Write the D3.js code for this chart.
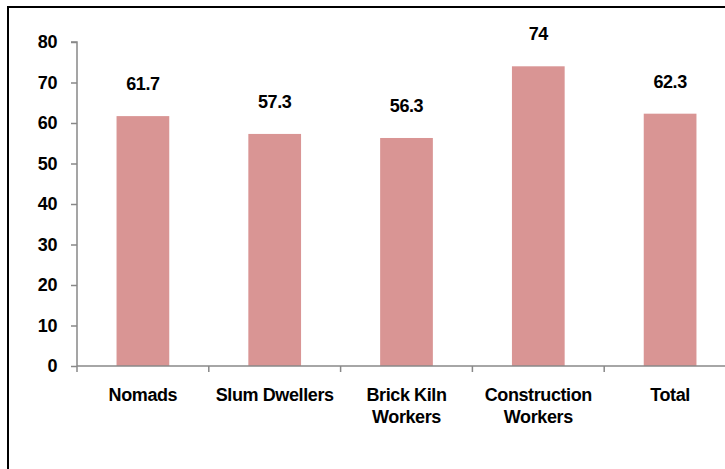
<!DOCTYPE html>
<html>
<head>
<meta charset="utf-8">
<script src="https://cdn.jsdelivr.net/npm/d3@7"></script>
<style>
  html, body { margin: 0; padding: 0; background: #fff; }
  svg { display: block; }
  text { font-family: "Liberation Sans", Arial, sans-serif; font-weight: bold; fill: #000; letter-spacing: -0.4px; }
</style>
</head>
<body>
<svg id="chart" width="725" height="469"></svg>
<script>
const categories = [["Nomads"], ["Slum Dwellers"], ["Brick Kiln", "Workers"], ["Construction", "Workers"], ["Total"]];
const values = [61.7, 57.3, 56.3, 74, 62.3];
const yTicks = [0, 10, 20, 30, 40, 50, 60, 70, 80];

const svg = d3.select("#chart");

// outer border (chart frame, cropped on right/bottom)
svg.append("rect")
  .attr("x", 8).attr("y", 7)
  .attr("width", 760).attr("height", 500)
  .attr("fill", "none").attr("stroke", "#000").attr("stroke-width", 2);

const x0 = 77, bandW = 131.8;
const keys = categories.map((c, i) => i);
const x = d3.scaleBand().domain(keys).range([x0, x0 + bandW * keys.length]).padding(0);
const y = d3.scaleLinear().domain([0, 80]).range([366, 42]);

// bars
const barW = x.bandwidth() * 0.4;
svg.append("g").selectAll("rect").data(values).join("rect")
  .attr("x", (d, i) => x(i) + (x.bandwidth() - barW) / 2)
  .attr("y", d => y(d))
  .attr("width", barW)
  .attr("height", d => y(0) - y(d))
  .attr("fill", "#D99594");

// value labels
svg.append("g").selectAll("text").data(values).join("text")
  .attr("x", (d, i) => x(i) + x.bandwidth() / 2)
  .attr("y", d => y(d) - 26)
  .attr("text-anchor", "middle")
  .style("font-size", "18px")
  .text(d => String(d));

// y axis
const yAxis = d3.axisLeft(y).tickValues(yTicks).tickSize(6).tickPadding(14);
const gy = svg.append("g").attr("transform", `translate(${x0},0)`).call(yAxis);
gy.select(".domain").attr("stroke", "#888").attr("stroke-width", 1.5).attr("d", `M-6,${y(80)}H0V${y(0)}`);
gy.selectAll(".tick line").attr("stroke", "#888").attr("stroke-width", 1.5);
gy.selectAll(".tick text").style("font-size", "18px").style("font-family", "'Liberation Sans', Arial, sans-serif").style("font-weight", "bold").attr("fill", "#000");

// x axis
const xb = d3.scaleLinear().domain([0, keys.length]).range([x0, x0 + bandW * keys.length]);
const gx = svg.append("g").attr("transform", `translate(0,${y(0)})`);
gx.append("line").attr("x1", x0).attr("x2", x0 + bandW * keys.length).attr("y1", 0).attr("y2", 0)
  .attr("stroke", "#888").attr("stroke-width", 1.5);
gx.selectAll("line.tk").data(d3.range(keys.length + 1)).join("line").attr("class", "tk")
  .attr("x1", d => xb(d)).attr("x2", d => xb(d)).attr("y1", 0).attr("y2", 6)
  .attr("stroke", "#888").attr("stroke-width", 1.5);

const lab = svg.append("g").selectAll("text").data(categories).join("text")
  .attr("x", (d, i) => x(i) + x.bandwidth() / 2)
  .attr("y", 401)
  .attr("text-anchor", "middle")
  .style("font-size", "18px");
lab.each(function(d, i) {
  const t = d3.select(this);
  d.forEach((line, j) => {
    t.append("tspan").attr("x", x(i) + x.bandwidth() / 2).attr("dy", j === 0 ? 0 : 22).text(line);
  });
});
</script>
</body>
</html>
